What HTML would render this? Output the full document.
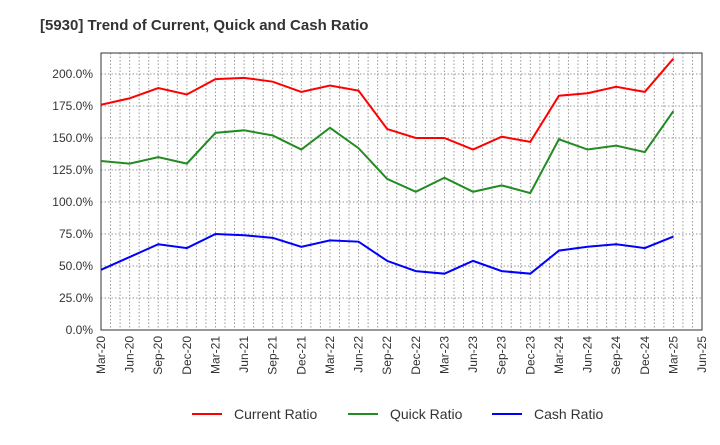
<!DOCTYPE html>
<html><head><meta charset="utf-8"><style>
body{margin:0;background:#fff;font-family:"Liberation Sans",sans-serif;}
svg text{font-family:"Liberation Sans",sans-serif;}
</style></head><body>
<svg id="c" width="720" height="440"></svg>
<script>
const categories=["Mar-20","Jun-20","Sep-20","Dec-20","Mar-21","Jun-21","Sep-21","Dec-21","Mar-22","Jun-22","Sep-22","Dec-22","Mar-23","Jun-23","Sep-23","Dec-23","Mar-24","Jun-24","Sep-24","Dec-24","Mar-25","Jun-25"];
const currentRatio=[176,181,189,184,196,197,194,186,191,187,157,150,150,141,151,147,183,185,190,186,212];
const quickRatio=[132,130,135,130,154,156,152,141,158,142,118,108,119,108,113,107,149,141,144,139,171];
const cashRatio=[47,57,67,64,75,74,72,65,70,69,54,46,44,54,46,44,62,65,67,64,73];
const yTicks=[0,25,50,75,100,125,150,175,200];
const NS="http://www.w3.org/2000/svg",svg=document.getElementById('c');
const L=101,R=702,T=53,B=330;
const x=i=>L+i*(R-L)/21, y=v=>B-v*1.28;
function mk(t,a,p){const e=document.createElementNS(NS,t);for(const k in a)e.setAttribute(k,a[k]);(p||svg).appendChild(e);return e;}
const t=mk('text',{x:40,y:30,'font-size':15,'font-weight':'bold',fill:'#333'});t.textContent="[5930]  Trend of Current, Quick and Cash Ratio";

for(let m=1;m<63;m++){const xx=L+m*(R-L)/63;const g=mk('line',{x1:xx,x2:xx,y1:T,y2:B,stroke:'#999','stroke-dasharray':'1.5,2','stroke-width':1});
}
yTicks.forEach(v=>{const g=mk('line',{x1:L,x2:R,y1:y(v),y2:y(v),stroke:'#999','stroke-dasharray':'1.5,2'});

const l=mk('text',{x:L-8,y:y(v)+4,'text-anchor':'end','font-size':12,fill:'#333'});l.textContent=v.toFixed(1)+"%";
});
const f=mk('rect',{x:L,y:T,width:R-L,height:B-T,fill:'none',stroke:'#333'});

categories.forEach((c,i)=>{const l=mk('text',{transform:`translate(${x(i)+4},${B+6}) rotate(-90)`,'text-anchor':'end','font-size':12,fill:'#333'});l.textContent=c;
});
[[currentRatio,'#f00','current-ratio-line'],[quickRatio,'#228b22','quick-ratio-line'],[cashRatio,'#00f','cash-ratio-line']].forEach(([d,col,n])=>{
const p=mk('polyline',{points:d.map((v,i)=>x(i)+','+y(v)).join(' '),fill:'none',stroke:col,'stroke-width':2});
});
[["Current Ratio",'#f00',192],["Quick Ratio",'#228b22',348],["Cash Ratio",'#00f',492]].forEach(([n,col,lx])=>{
const g=mk('g',{});
mk('line',{x1:lx,x2:lx+30,y1:414,y2:414,stroke:col,'stroke-width':2},g);
const tt=mk('text',{x:lx+42,y:419,'font-size':14,fill:'#333'},g);tt.textContent=n;});
</script></body></html>
